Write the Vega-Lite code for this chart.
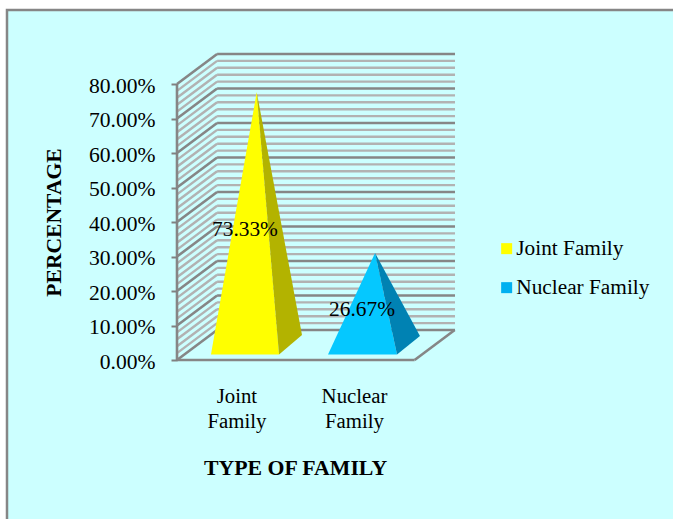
{
  "$schema": "https://vega.github.io/schema/vega-lite/v6.json",
  "width": 278,
  "height": 306,
  "autosize": "none",
  "padding": {"left": 177, "top": 54, "right": 218, "bottom": 159},
  "background": "#ffffff",
  "config": {
    "view": {"stroke": null},
    "text": {"font": "Liberation Serif"},
    "axis": {"labelFont": "Liberation Serif", "titleFont": "Liberation Serif", "labelColor": "#000000", "titleColor": "#000000"},
    "legend": {"labelFont": "Liberation Serif", "labelColor": "#000000"}
  },
  "datasets": {
    "panel": [{"x": -1.431, "x2": 4.6, "y": 1.0145, "y2": -0.49}],
    "minorWall": [
      {"x":0.3376,"x2":2.34,"y":0.107,"y2":0.107},{"x":0.3376,"x2":2.34,"y":0.127,"y2":0.127},{"x":0.3376,"x2":2.34,"y":0.147,"y2":0.147},{"x":0.3376,"x2":2.34,"y":0.167,"y2":0.167},
      {"x":0.3376,"x2":2.34,"y":0.207,"y2":0.207},{"x":0.3376,"x2":2.34,"y":0.227,"y2":0.227},{"x":0.3376,"x2":2.34,"y":0.247,"y2":0.247},{"x":0.3376,"x2":2.34,"y":0.267,"y2":0.267},
      {"x":0.3376,"x2":2.34,"y":0.307,"y2":0.307},{"x":0.3376,"x2":2.34,"y":0.327,"y2":0.327},{"x":0.3376,"x2":2.34,"y":0.347,"y2":0.347},{"x":0.3376,"x2":2.34,"y":0.367,"y2":0.367},
      {"x":0.3376,"x2":2.34,"y":0.407,"y2":0.407},{"x":0.3376,"x2":2.34,"y":0.427,"y2":0.427},{"x":0.3376,"x2":2.34,"y":0.447,"y2":0.447},{"x":0.3376,"x2":2.34,"y":0.467,"y2":0.467},
      {"x":0.3376,"x2":2.34,"y":0.507,"y2":0.507},{"x":0.3376,"x2":2.34,"y":0.527,"y2":0.527},{"x":0.3376,"x2":2.34,"y":0.547,"y2":0.547},{"x":0.3376,"x2":2.34,"y":0.567,"y2":0.567},
      {"x":0.3376,"x2":2.34,"y":0.607,"y2":0.607},{"x":0.3376,"x2":2.34,"y":0.627,"y2":0.627},{"x":0.3376,"x2":2.34,"y":0.647,"y2":0.647},{"x":0.3376,"x2":2.34,"y":0.667,"y2":0.667},
      {"x":0.3376,"x2":2.34,"y":0.707,"y2":0.707},{"x":0.3376,"x2":2.34,"y":0.727,"y2":0.727},{"x":0.3376,"x2":2.34,"y":0.747,"y2":0.747},{"x":0.3376,"x2":2.34,"y":0.767,"y2":0.767},
      {"x":0.3376,"x2":2.34,"y":0.807,"y2":0.807},{"x":0.3376,"x2":2.34,"y":0.827,"y2":0.827},{"x":0.3376,"x2":2.34,"y":0.847,"y2":0.847},{"x":0.3376,"x2":2.34,"y":0.867,"y2":0.867},
      {"x":0,"x2":0.3376,"y":0.02,"y2":0.107},{"x":0,"x2":0.3376,"y":0.04,"y2":0.127},{"x":0,"x2":0.3376,"y":0.06,"y2":0.147},{"x":0,"x2":0.3376,"y":0.08,"y2":0.167},
      {"x":0,"x2":0.3376,"y":0.12,"y2":0.207},{"x":0,"x2":0.3376,"y":0.14,"y2":0.227},{"x":0,"x2":0.3376,"y":0.16,"y2":0.247},{"x":0,"x2":0.3376,"y":0.18,"y2":0.267},
      {"x":0,"x2":0.3376,"y":0.22,"y2":0.307},{"x":0,"x2":0.3376,"y":0.24,"y2":0.327},{"x":0,"x2":0.3376,"y":0.26,"y2":0.347},{"x":0,"x2":0.3376,"y":0.28,"y2":0.367},
      {"x":0,"x2":0.3376,"y":0.32,"y2":0.407},{"x":0,"x2":0.3376,"y":0.34,"y2":0.427},{"x":0,"x2":0.3376,"y":0.36,"y2":0.447},{"x":0,"x2":0.3376,"y":0.38,"y2":0.467},
      {"x":0,"x2":0.3376,"y":0.42,"y2":0.507},{"x":0,"x2":0.3376,"y":0.44,"y2":0.527},{"x":0,"x2":0.3376,"y":0.46,"y2":0.547},{"x":0,"x2":0.3376,"y":0.48,"y2":0.567},
      {"x":0,"x2":0.3376,"y":0.52,"y2":0.607},{"x":0,"x2":0.3376,"y":0.54,"y2":0.627},{"x":0,"x2":0.3376,"y":0.56,"y2":0.647},{"x":0,"x2":0.3376,"y":0.58,"y2":0.667},
      {"x":0,"x2":0.3376,"y":0.62,"y2":0.707},{"x":0,"x2":0.3376,"y":0.64,"y2":0.727},{"x":0,"x2":0.3376,"y":0.66,"y2":0.747},{"x":0,"x2":0.3376,"y":0.68,"y2":0.767},
      {"x":0,"x2":0.3376,"y":0.72,"y2":0.807},{"x":0,"x2":0.3376,"y":0.74,"y2":0.827},{"x":0,"x2":0.3376,"y":0.76,"y2":0.847},{"x":0,"x2":0.3376,"y":0.78,"y2":0.867}
    ],
    "majorWall": [
      {"x":0.3376,"x2":2.34,"y":0.087,"y2":0.087},{"x":0.3376,"x2":2.34,"y":0.187,"y2":0.187},{"x":0.3376,"x2":2.34,"y":0.287,"y2":0.287},{"x":0.3376,"x2":2.34,"y":0.387,"y2":0.387},
      {"x":0.3376,"x2":2.34,"y":0.487,"y2":0.487},{"x":0.3376,"x2":2.34,"y":0.587,"y2":0.587},{"x":0.3376,"x2":2.34,"y":0.687,"y2":0.687},{"x":0.3376,"x2":2.34,"y":0.787,"y2":0.787},{"x":0.3376,"x2":2.34,"y":0.887,"y2":0.887},
      {"x":0,"x2":0.3376,"y":0,"y2":0.087},{"x":0,"x2":0.3376,"y":0.1,"y2":0.187},{"x":0,"x2":0.3376,"y":0.2,"y2":0.287},{"x":0,"x2":0.3376,"y":0.3,"y2":0.387},
      {"x":0,"x2":0.3376,"y":0.4,"y2":0.487},{"x":0,"x2":0.3376,"y":0.5,"y2":0.587},{"x":0,"x2":0.3376,"y":0.6,"y2":0.687},{"x":0,"x2":0.3376,"y":0.7,"y2":0.787},{"x":0,"x2":0.3376,"y":0.8,"y2":0.887},
      {"x":0,"x2":0,"y":0,"y2":0.8},
      {"x":0,"x2":2,"y":0,"y2":0},
      {"x":2,"x2":2.3376,"y":0,"y2":0.087}
    ],
    "faces": [
      {"face":"Joint front","corner":1,"x":0.286,"y":0.016},
      {"face":"Joint front","corner":2,"x":0.859,"y":0.016},
      {"face":"Joint front","corner":3,"x":0.671,"y":0.7768},
      {"face":"Joint side","corner":1,"x":0.859,"y":0.016},
      {"face":"Joint side","corner":2,"x":1.052,"y":0.0725},
      {"face":"Joint side","corner":3,"x":0.671,"y":0.7768},
      {"face":"Nuclear front","corner":1,"x":1.271,"y":0.016},
      {"face":"Nuclear front","corner":2,"x":1.852,"y":0.016},
      {"face":"Nuclear front","corner":3,"x":1.667,"y":0.3102},
      {"face":"Nuclear side","corner":1,"x":1.852,"y":0.016},
      {"face":"Nuclear side","corner":2,"x":2.045,"y":0.0696},
      {"face":"Nuclear side","corner":3,"x":1.667,"y":0.3102}
    ],
    "families": [
      {"family":"Joint Family","value":0.7333,"x":0.572,"y":0.377},
      {"family":"Nuclear Family","value":0.2667,"x":1.557,"y":0.146}
    ]
  },
  "encoding": {
    "x": {
      "field": "x",
      "type": "quantitative",
      "scale": {"domain": [0, 2.34], "nice": false, "zero": false},
      "axis": {
        "values": [0.5, 1.49],
        "labelExpr": "datum.value < 1 ? ['Joint', 'Family'] : ['Nuclear', 'Family']",
        "domain": false,
        "ticks": false,
        "grid": false,
        "labelFontSize": 20.8,
        "labelLineHeight": 25,
        "labelPadding": 26,
        "labelBaseline": "top",
        "labelFlush": false,
        "labelOverlap": false,
        "title": "TYPE OF FAMILY",
        "titleFontSize": 21.8,
        "titleFontWeight": "bold",
        "titleX": 118,
        "titleY": 97,
        "titleAlign": "center",
        "zindex": 1
      }
    },
    "y": {
      "field": "y",
      "type": "quantitative",
      "scale": {"domain": [0, 0.887], "nice": false, "zero": false},
      "axis": {
        "values": [0, 0.1, 0.2, 0.3, 0.4, 0.5, 0.6, 0.7, 0.8],
        "format": ".2%",
        "domain": false,
        "grid": false,
        "tickSize": 6,
        "tickWidth": 2,
        "tickColor": "#808080",
        "labelFontSize": 21.6,
        "labelPadding": 16,
        "labelOffset": 2,
        "labelOverlap": false,
        "title": "PERCENTAGE",
        "titleFontSize": 21.6,
        "titleFontWeight": "bold",
        "titleX": -112,
        "titleY": 168,
        "titleAlign": "center",
        "titleAngle": -90,
        "zindex": 1
      }
    }
  },
  "layer": [
    {
      "data": {"name": "panel"},
      "mark": {"type": "rect", "fill": "#CCFFFF", "stroke": "#868686", "strokeWidth": 2.5, "clip": false},
      "encoding": {"x2": {"field": "x2"}, "y2": {"field": "y2"}}
    },
    {
      "data": {"name": "minorWall"},
      "mark": {"type": "rule", "stroke": "#B2B2B2", "strokeWidth": 2.4},
      "encoding": {"x2": {"field": "x2"}, "y2": {"field": "y2"}}
    },
    {
      "data": {"name": "majorWall"},
      "mark": {"type": "rule", "stroke": "#868686", "strokeWidth": 2.6},
      "encoding": {"x2": {"field": "x2"}, "y2": {"field": "y2"}}
    },
    {
      "data": {"name": "faces"},
      "mark": {"type": "line", "interpolate": "linear-closed", "strokeWidth": 0, "fillOpacity": 1},
      "encoding": {
        "order": {"field": "corner", "type": "ordinal"},
        "detail": {"field": "face"},
        "fill": {
          "field": "face",
          "type": "nominal",
          "legend": null,
          "scale": {
            "domain": ["Joint front", "Joint side", "Nuclear front", "Nuclear side"],
            "range": ["#FFFF00", "#B3B300", "#05C8FF", "#0082B3"]
          }
        }
      }
    },
    {
      "data": {"name": "families"},
      "mark": {"type": "square", "size": 0, "opacity": 0},
      "encoding": {
        "color": {
          "field": "family",
          "type": "nominal",
          "scale": {"domain": ["Joint Family", "Nuclear Family"], "range": ["#FFFF00", "#00B0F0"]},
          "legend": {
            "title": null,
            "orient": "none",
            "legendX": 319,
            "legendY": 184,
            "symbolType": "square",
            "symbolSize": 121,
            "symbolOpacity": 1,
            "symbolStrokeWidth": 0,
            "labelFontSize": 21.3,
            "labelOffset": -1,
            "rowPadding": 17,
            "labelLimit": 220
          }
        }
      }
    },
    {
      "data": {"name": "families"},
      "mark": {"type": "text", "fontSize": 21.4, "color": "#000000", "align": "center", "baseline": "middle"},
      "encoding": {"text": {"field": "value", "type": "quantitative", "format": ".2%"}}
    }
  ]
}
